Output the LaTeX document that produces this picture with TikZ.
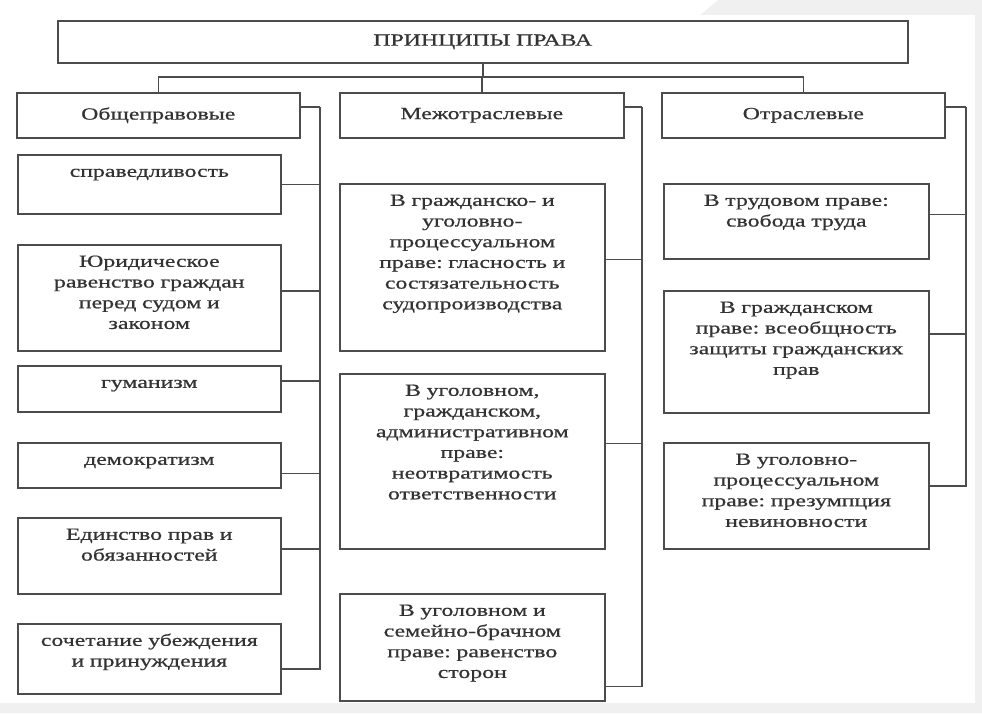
\documentclass[tikz,border=0pt]{standalone}
\usepackage{fontspec}
\setmainfont{Liberation Serif}[FakeStretch=1.4, FakeBold=0.7]
\frenchspacing
\begin{document}
\begin{tikzpicture}[x=1pt, y=1pt,
  font=\fontsize{17}{20.7}\selectfont,
  box/.style = {draw=black!70, line width=1.6pt, anchor=north west,
    inner sep=0pt, align=center, text=black!80},
  head/.style = {box, minimum height=45pt},
  item/.style = {box, text height=22pt},
  link/.style = {draw=black!70, line width=1.6pt}]
  % page and grey margin
  \fill[black!6] (0,0) rectangle (982,-713);
  \fill[white] (0,0) -- (718,0) -- (700,-15) -- (975,-15) -- (975,-703) -- (0,-703) -- cycle;
  \useasboundingbox (0,0) rectangle (982,-713);

  \node[box, text width=850pt, minimum height=42pt] (top) at (57,-20) {ПРИНЦИПЫ ПРАВА};

  \node[head, text width=283pt] (gen) at (16,-92)  {Общеправовые};
  \node[head, text width=284pt] (mid) at (339,-92) {Межотраслевые};
  \node[head, text width=283pt] (br)  at (661,-92) {Отраслевые};

  % general principles
  \node[item, text width=263pt, text depth=37pt] (l1) at (17,-154) {справедливость};
  \node[item, text width=263pt, text depth=84pt] (l2) at (17,-244)
    {Юридическое\\ равенство граждан\\ перед судом и\\ законом};
  \node[item, text width=263pt, text depth=24pt] (l3) at (17,-365) {гуманизм};
  \node[item, text width=263pt, text depth=23pt] (l4) at (17,-442) {демократизм};
  \node[item, text width=263pt, text depth=54pt] (l5) at (17,-517)
    {Единство прав и\\ обязанностей};
  \node[item, text width=263pt, text depth=48pt] (l6) at (17,-623)
    {сочетание убеждения\\ и принуждения};

  % inter-branch principles
  \node[item, text width=265pt, text depth=145pt] (m1) at (339,-183)
    {В гражданско- и\\ уголовно-\\ процессуальном\\ праве: гласность и\\ состязательность\\ судопроизводства};
  \node[item, text width=265pt, text depth=153pt] (m2) at (339,-373)
    {В уголовном,\\ гражданском,\\ административном\\ праве:\\ неотвратимость\\ ответственности};
  \node[item, text width=265pt, text depth=85pt] (m3) at (339,-593)
    {В уголовном и\\ семейно-брачном\\ праве: равенство\\ сторон};

  % branch principles
  \node[item, text width=265pt, text depth=53pt] (r1) at (663,-183)
    {В трудовом праве:\\ свобода труда};
  \node[item, text width=265pt, text depth=100pt] (r2) at (663,-290)
    {В гражданском\\ праве: всеобщность\\ защиты гражданских\\ прав};
  \node[item, text width=265pt, text depth=84pt] (r3) at (663,-442)
    {В уголовно-\\ процессуальном\\ праве: презумпция\\ невиновности};

  % connectors
  \coordinate (bus) at (481,-77);
  \coordinate (tl) at (320,-107);
  \coordinate (tm) at (642,-107);
  \coordinate (tr) at (966,-107);

  \draw[link] (top.south) -- (top.south |- bus);
  \draw[link] (gen.north) |- (bus) -| (br.north);
  \draw[link] (mid.north) -- (mid.north |- bus);

  \draw[link] (gen.east |- tl) -- (tl);
  \draw[link] (mid.east |- tm) -- (tm);
  \draw[link] (br.east |- tr) -- (tr);
  \foreach \n/\s in {l1/0, l2/7, l3/8, l4/-8, l5/7, l6/-10}
    \draw[link] ([yshift=\s pt]\n.east) -| (tl);
  \foreach \n/\s in {m1/8, m2/18, m3/-39}
    \draw[link] ([yshift=\s pt]\n.east) -| (tm);
  \foreach \n/\s in {r1/7, r2/18, r3/10}
    \draw[link] ([yshift=\s pt]\n.east) -| (tr);
\end{tikzpicture}
\end{document}
